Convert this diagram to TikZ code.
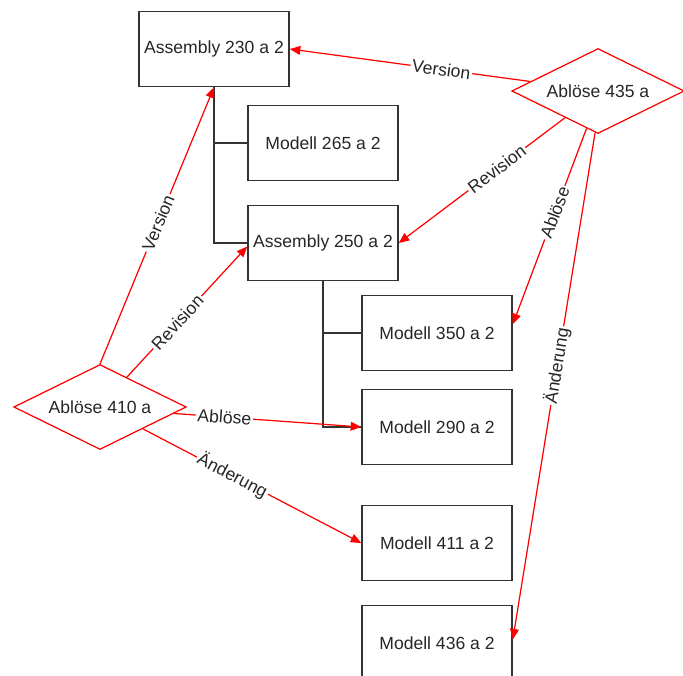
\documentclass[tikz,border=0pt]{standalone}
\usepackage{fontspec}
\setmainfont{Liberation Sans}
\usetikzlibrary{positioning}
\usetikzlibrary{shapes.geometric}
\usetikzlibrary{arrows.meta}
\colorlet{linkcol}{red}
\tikzset{>={Triangle[length=6pt,width=5pt]}}

\begin{document}
\begin{tikzpicture}[x=0.02cm, y=-0.02cm,
    font=\fontsize{10}{12}\selectfont,
    part/.style={draw=black!80, line width=0.9pt, minimum width=3cm,
      minimum height=1.5cm, inner sep=0pt, text=black!85},
    change/.style={diamond, draw=linkcol, line width=0.7pt, aspect=2,
      minimum width=3.45cm, minimum height=1.7cm, inner sep=0pt, text=black!85},
    link/.style={->, draw=linkcol, line width=0.7pt},
    tag/.style={fill=white, inner sep=1pt, sloped, text=black!85},
    tree/.style={draw=black!80, line width=0.9pt}]

\useasboundingbox (0,0) rectangle (683,676);

% Parts
\node[part] (a230) at (214,49) {Assembly 230 a 2};
\node[part] (m265) at (323,143) {Modell 265 a 2};
\node[part] (a250) at (323,243) {Assembly 250 a 2};
\node[part] (m350) at (437,333) {Modell 350 a 2};
\node[part] (m290) at (437,427) {Modell 290 a 2};
\node[part] (m411) at (437,543) {Modell 411 a 2};
\node[part] (m436) at (437,643) {Modell 436 a 2};

% Changes
\node[change] (c410) at (100,407) {Ablöse 410 a};
\node[change] (c435) at (598,91) {Ablöse 435 a};

% Structure tree
\draw[tree] (a230.south) |- (a250.west);
\draw[tree] (a230.south |- m265.west) -- (m265.west);
\draw[tree] (a250.south) |- (m290.west);
\draw[tree] (a250.south |- m350.west) -- (m350.west);

% Links of Ablöse 435 a
\draw[link] (c435.172) -- (a230.east) node[tag, pos=0.37] {Version};
\draw[link] (c435.219) -- (a250.east) node[tag, pos=0.41] {Revision};
\draw[link] (c435.253) -- ([yshift=5pt]m350.east) node[tag, pos=0.43] {Ablöse};
\draw[link] (c435.266) -- ([yshift=2pt]m436.east) node[tag, pos=0.46] {Änderung};

% Links of Ablöse 410 a
\draw[link] (c410.north) -- (a230.south) node[tag, pos=0.51] {Version};
\draw[link] (c410.48) -- ([yshift=-2pt]a250.west) node[tag, pos=0.42] {Revision};
\draw[link] (c410.-5) -- (m290.west) node[tag, pos=0.27] {Ablöse};
\draw[link] (c410.-27) -- (m411.west) node[tag, pos=0.41] {Änderung};
\end{tikzpicture}
\end{document}
